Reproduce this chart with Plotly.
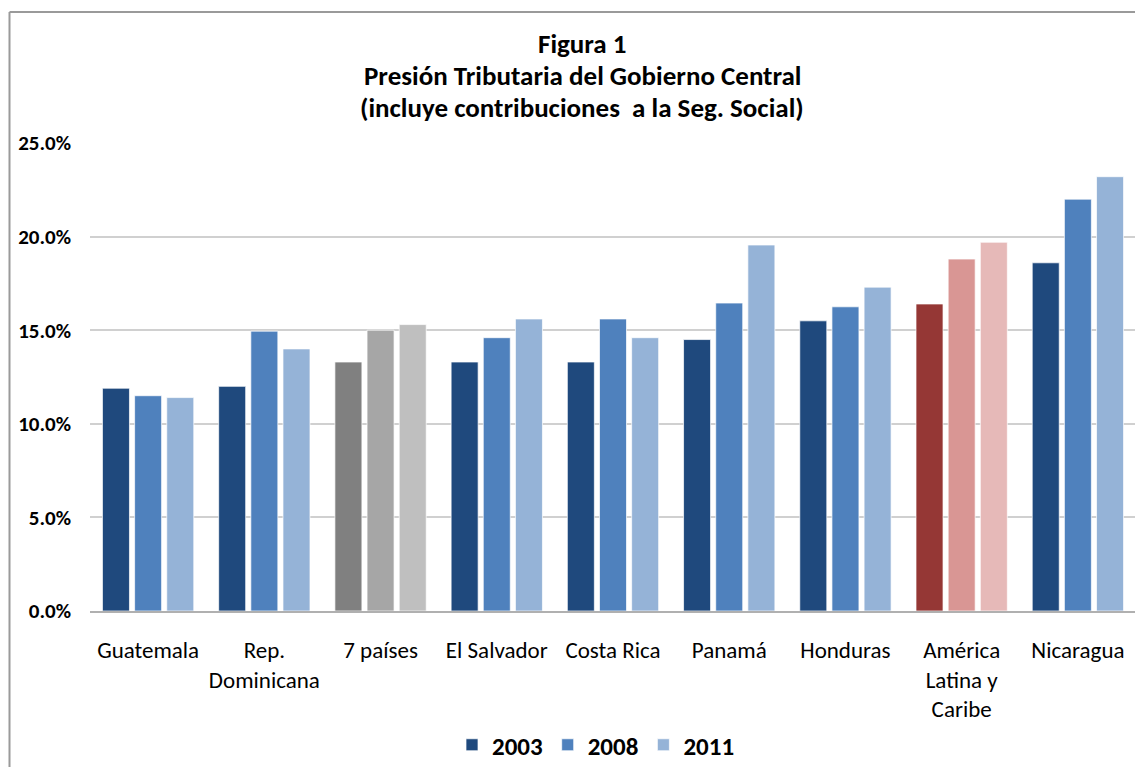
import plotly.graph_objects as go

categories = ["Guatemala", "Rep.<br>Dominicana", "7 países", "El Salvador", "Costa Rica",
              "Panamá", "Honduras", "América<br>Latina y<br>Caribe", "Nicaragua"]
years = ["2003", "2008", "2011"]
v2003 = [11.9, 12.0, 13.3, 13.3, 13.3, 14.5, 15.5, 16.4, 18.6]
v2008 = [11.5, 14.95, 15.0, 14.6, 15.6, 16.45, 16.25, 18.8, 22.0]
v2011 = [11.4, 14.0, 15.3, 15.6, 14.6, 19.55, 17.3, 19.7, 23.2]
yticks = [0, 5, 10, 15, 20, 25]

blue = ["#1F497D", "#4F81BD", "#95B3D7"]
gray = ["#808080", "#A6A6A6", "#BFBFBF"]
red = ["#953735", "#D99694", "#E6B9B8"]

def colors_for(i):
    out = []
    for c in categories:
        if c == "7 países":
            out.append(gray[i])
        elif c.startswith("América"):
            out.append(red[i])
        else:
            out.append(blue[i])
    return out

FONT = "Carlito, Calibri, Lato, sans-serif"
fig = go.Figure()
for i, (yr, vals) in enumerate(zip(years, [v2003, v2008, v2011])):
    fig.add_trace(go.Bar(
        name=yr, x=categories, y=vals,
        marker=dict(color=colors_for(i), line=dict(color="rgba(255,255,255,0.7)", width=1)),
    ))

OFF = 8  # page body margin
W, H = 1143 - OFF, 767 - OFF
L, R, T, B = 90 - OFF, 1136 - OFF, 143 - OFF, 611 - OFF
pw, ph = R - L, B - T

def px(x):
    return (x - OFF - L) / pw

def py(y):
    return (B - (y - OFF)) / ph

title_lines = ["Figura 1", "Presión Tributaria del Gobierno Central",
               "(incluye contribuciones  a la Seg. Social)"]
title_y = [43, 75, 107]
annotations = [
    dict(text=t, x=px(582), y=py(yy), xref="paper", yref="paper", xanchor="center",
         yanchor="middle", showarrow=False,
         font=dict(family=FONT, size=27, color="#000000", weight="bold"))
    for t, yy in zip(title_lines, title_y)
]

fig.update_layout(
    width=W, height=H,
    margin=dict(l=L, r=W - R, t=T, b=H - B, autoexpand=False),
    paper_bgcolor="white", plot_bgcolor="white",
    barmode="group", bargap=0.17, bargroupgap=0.16,
    font=dict(family=FONT, color="#000000"),
    showlegend=True,
    legend=dict(orientation="h", x=px(596), y=py(745), xanchor="center", yanchor="middle",
                font=dict(family=FONT, size=25, color="#000000", weight="bold"),
                itemwidth=30, traceorder="normal"),
    annotations=annotations,
    shapes=[
        dict(type="line", xref="paper", yref="paper", x0=px(9.5), x1=px(9.5),
             y0=py(12), y1=py(780), line=dict(color="#9A9A9A", width=2)),
        dict(type="line", xref="paper", yref="paper", x0=px(9.5), x1=px(1160),
             y0=py(12), y1=py(12), line=dict(color="#9A9A9A", width=2)),
    ],
)
fig.update_yaxes(
    range=[0, 25], tickvals=yticks, ticktext=[f"{v:.1f}%" for v in yticks],
    showgrid=True, gridcolor="#D0D0D0", gridwidth=2, zeroline=False,
    showline=False, ticks="", ticklabelstandoff=18,
    tickfont=dict(family=FONT, size=21, color="#000000", weight="bold"),
)
fig.update_xaxes(
    showline=True, linecolor="#B0B0B0", linewidth=2, ticks="",
    ticklabelstandoff=17,
    tickfont=dict(family=FONT, size=23, color="#000000"),
)
fig.write_html("out.html")
